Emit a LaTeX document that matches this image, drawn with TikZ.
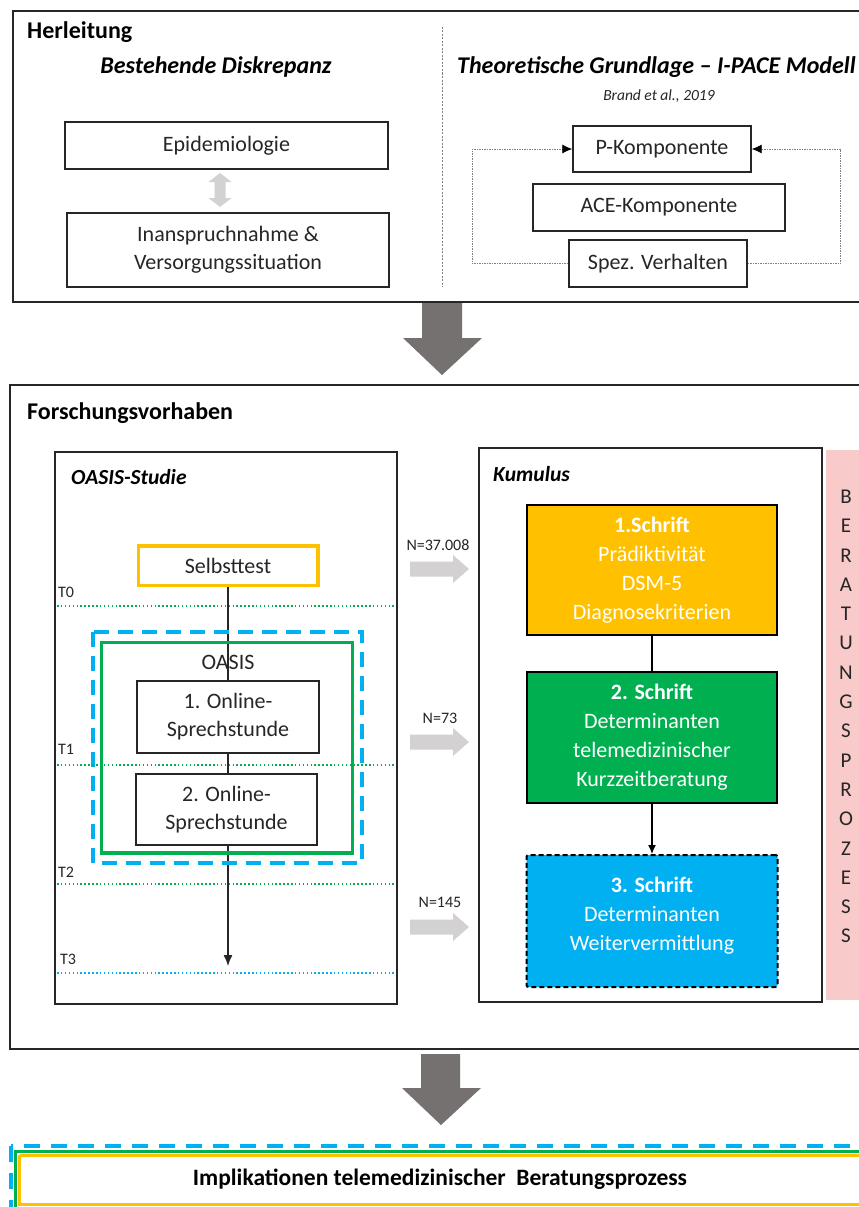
\documentclass[tikz,border=0pt]{standalone}
\usepackage{fontspec}
\setmainfont{Carlito}
\usetikzlibrary{arrows.meta}
\definecolor{cOrange}{HTML}{FFC000}
\definecolor{cGreen}{HTML}{00B050}
\definecolor{cBlue}{HTML}{00B0F0}
\definecolor{cPink}{HTML}{F8CACA}
\definecolor{cDark}{HTML}{767171}
\definecolor{cLight}{HTML}{D3D1D1}
\definecolor{cLine}{HTML}{262626}
\tikzset{
  frame/.style={draw=cLine, line width=1.4},
  box/.style={draw=cLine, line width=1.4, fill=white, align=center, inner sep=0,
    font=\fontsize{22}{28}\selectfont, text=cLine},
  schrift/.style={draw=black, line width=2, align=center, inner sep=0, text=white,
    font=\fontsize{22}{29}\selectfont},
  heading/.style={font=\fontsize{24}{28}\selectfont\bfseries, inner sep=0, text=black},
  subheading/.style={font=\fontsize{24}{28}\selectfont\bfseries\itshape, inner sep=0, text=black},
  boxtitle/.style={font=\fontsize{21.5}{25}\selectfont\bfseries\itshape, inner sep=0, text=black},
  small/.style={font=\fontsize{16}{18}\selectfont, inner sep=0, text=cLine},
  loopline/.style={draw=gray, line width=0.8, dash pattern=on 1.5pt off 1pt},
  looptip/.style={-{Latex[length=10pt,width=9pt,color=black]}},
  tline/.style={line width=1.6, dash pattern=on 1.5pt off 2.4pt},
}
\begin{document}
\begin{tikzpicture}[x=1pt,y=-1pt]
\useasboundingbox (0,0) rectangle (859,1207);
\clip (0,0) rectangle (859,1207);
\fill[white] (0,0) rectangle (859,1207);

% ---------------- Herleitung ----------------
\draw[frame] (13,11) rectangle (890,302);
\node[heading, anchor=west] (herl) at (27,32) {Herleitung};
\node[subheading] (bd) at (216,67) {Bestehende Diskrepanz};
\draw[draw=gray, line width=0.8, dash pattern=on 2pt off 1.5pt] (442,27) -- (442,287);
\node[box, minimum width=323, minimum height=47] (epi) at (226.5,145.5) {Epidemiologie};
\node[box, minimum width=322, minimum height=74] (inan) at (228,250) {Inanspruchnahme \&\\Versorgungssituation};
\coordinate (dA) at (220,173);
\coordinate (dB) at (220,207);
\fill[cLight] (dA) -- (231.5,182) -- (225.5,182) -- (225.5,198) -- (231.5,198) -- (dB)
  -- (208.5,198) -- (214.5,198) -- (214.5,182) -- (208.5,182) -- cycle;

\node[subheading, anchor=west] (tg) at (457,67) {Theoretische Grundlage -- I-PACE Modell};
\node[small, font=\fontsize{15.5}{18}\selectfont\itshape] (brand) at (659,96) {Brand et al., 2019};
\node[box, minimum width=178, minimum height=46] (pk) at (662,149) {P-Komponente};
\node[box, minimum width=252, minimum height=47] (ace) at (659,207.5) {ACE-Komponente};
\node[box, minimum width=178, minimum height=47] (spez) at (658,263.5) {Spez. Verhalten};
\draw[loopline, looptip] (spez.west) -- ++(-96,0) |- (pk.west);
\draw[loopline, looptip] (spez.east) -- ++(93,0) |- (pk.east);

% big arrow 1
\fill[cDark] (422,303) -- (462,303) -- (462,338) -- (482,338) -- (442,375) -- (403,338) -- (422,338) -- cycle;

% ---------------- Forschungsvorhaben ----------------
\draw[frame] (10,385) rectangle (890,1049);
\node[heading, anchor=west] (fv) at (27,413) {Forschungsvorhaben};

% OASIS-Studie
\draw[frame] (55,452) rectangle (397,1004);
\node[boxtitle, anchor=west] (os) at (71,477) {OASIS-Studie};

\node[box, draw=cOrange, line width=3.5, minimum width=179.5, minimum height=39.5] (self) at (228,565.5) {Selbsttest};
\node[box, minimum width=182, minimum height=72] (on1) at (228,717) {1. Online-\\Sprechstunde};
\node[box, minimum width=181, minimum height=71] (on2) at (226.5,809.5) {2. Online-\\Sprechstunde};
\coordinate (tip) at (228,966);
\draw[cLine, line width=1.3] (self.south) -- (self.south |- on1.north);
\draw[cLine, line width=1.3] (on1.south) -- (on1.south |- on2.north);
\draw[cLine, line width=1.3, -{Latex[length=11pt,width=9pt]}] (on2.south -| tip) -- (tip);

\draw[cBlue, line width=4, dash pattern=on 15pt off 9pt] (93,632) rectangle (362,863);
\draw[cGreen, line width=3.5] (101.5,642.5) rectangle (352.5,853);
\node[box, draw=none, fill=none] (oasis) at (228,662) {OASIS};

\node[small, anchor=west] (t0) at (58,592) {T0};
\node[small, anchor=west] (t1) at (58,749) {T1};
\node[small, anchor=west] (t2) at (58,872) {T2};
\node[small, anchor=west] (t3) at (60,959) {T3};
\draw[cGreen, tline] (57,606) -- (396,606);
\draw[cGreen, tline] (57,765) -- (396,765);
\draw[cGreen, tline] (57,884) -- (396,884);
\draw[cBlue, tline] (57,973) -- (396,973);

% N arrows
\node[small] (n1) at (438,545) {N=37.008};
\node[small] (n2) at (440,718) {N=73};
\node[small] (n3) at (440,902) {N=145};
\foreach \yc in {569,742,927}{
  \fill[cLight] (410,\yc-7.5) -- (453,\yc-7.5) -- (453,\yc-14) -- (469,\yc) -- (453,\yc+14) -- (453,\yc+7.5) -- (410,\yc+7.5) -- cycle;
}

% Kumulus
\draw[frame] (479,448) rectangle (822,1002);
\node[boxtitle, anchor=west] (kum) at (493,474) {Kumulus};
\node[schrift, fill=cOrange, minimum width=250, minimum height=130] (s1) at (652,570)
  {{\bfseries 1.Schrift}\\Prädiktivität\\DSM-5\\Diagnosekriterien};
\node[schrift, fill=cGreen, minimum width=250, minimum height=131] (s2) at (652,737.5)
  {{\bfseries 2. Schrift}\\Determinanten\\telemedizinischer\\Kurzzeitberatung};
\node[schrift, fill=cBlue, dash pattern=on 5pt off 3pt, rounded corners=2, minimum width=251, minimum height=132] (s3) at (652,921)
  {{\bfseries 3. Schrift}\\Determinanten\\Weitervermittlung\\[-15pt]\mbox{}};
\draw[black, line width=1.3] (s1.south) -- (s2.north);
\draw[black, line width=1.3, -{Latex[length=9pt,width=8pt]}] (s2.south) -- (s3.north);

% Pink band
\fill[cPink] (826,450) rectangle (880,1000);
\node[align=center, inner sep=0, text=cLine, font=\fontsize{21}{29.3}\selectfont] (bp) at (846,716.5)
  {B\\E\\R\\A\\T\\U\\N\\G\\S\\P\\R\\O\\Z\\E\\S\\S};

% big arrow 2
\fill[cDark] (421,1054) -- (460,1054) -- (460,1088) -- (481,1088) -- (441,1125) -- (402,1088) -- (421,1088) -- cycle;

% ---------------- Implikationen ----------------
\draw[cBlue, line width=4, dash pattern=on 16pt off 11pt] (11,1146) rectangle (900,1230);
\draw[cGreen, line width=3] (15.5,1151) rectangle (895,1225);
\draw[cOrange, line width=3] (19.5,1155) -- (19.5,1204.5) -- (890,1204.5) (19.5,1155) -- (890,1155);
\node[heading, font=\fontsize{23.5}{27}\selectfont\bfseries] (impl) at (440,1179) {Implikationen telemedizinischer\ \ Beratungsprozess};
\end{tikzpicture}
\end{document}
